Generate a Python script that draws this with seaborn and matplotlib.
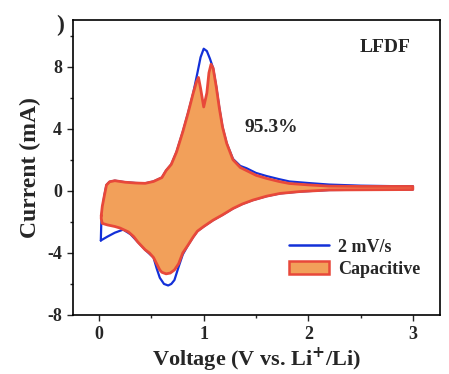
import numpy as np
import pandas as pd
import seaborn as sns
from matplotlib import pyplot as plt
from matplotlib.lines import Line2D
from matplotlib.patches import Patch

# total CV current at 2 mV/s, anodic scan (0 -> 3 V) then cathodic scan (3 -> 0 V)
cv_v_up = [0.016, 0.02, 0.03, 0.05, 0.07, 0.1, 0.15, 0.25, 0.35, 0.44, 0.52, 0.6, 0.64, 0.69,
           0.74, 0.80, 0.85, 0.9, 0.94, 0.97, 1.0, 1.03, 1.06, 1.09, 1.12, 1.15, 1.18, 1.22,
           1.28, 1.35, 1.41, 1.5, 1.6, 1.72, 1.82, 2.0, 2.2, 2.5, 2.8, 3.0]
cv_i_up = [-3.2, -2.2, -1.2, -0.3, 0.37, 0.58, 0.65, 0.55, 0.5, 0.48, 0.6, 0.85, 1.3, 1.7,
           2.5, 3.8, 5.0, 6.3, 7.6, 8.6, 9.15, 9.0, 8.5, 7.9, 6.7, 5.3, 4.1, 3.05,
           2.05, 1.6, 1.45, 1.15, 0.95, 0.75, 0.6, 0.5, 0.4, 0.33, 0.3, 0.3]
cv_v_down = [3.0, 2.7, 2.4, 2.2, 1.92, 1.73, 1.6, 1.47, 1.37, 1.28, 1.18, 1.09, 1.0, 0.94,
             0.90, 0.85, 0.80, 0.76, 0.72, 0.69, 0.66, 0.62, 0.58, 0.55, 0.52, 0.44, 0.37,
             0.30, 0.23, 0.15, 0.08, 0.016]
cv_i_down = [0.08, 0.07, 0.06, 0.05, -0.05, -0.17, -0.35, -0.6, -0.85, -1.14, -1.55, -1.89, -2.3, -2.6,
             -2.97, -3.5, -4.1, -4.9, -5.75, -6.0, -6.1, -6.0, -5.6, -5.0, -4.3, -3.8, -3.3,
             -2.8, -2.5, -2.7, -2.95, -3.2]

# capacitive contribution (95.3 %)
cap_v_up = [0.02, 0.03, 0.05, 0.07, 0.1, 0.15, 0.25, 0.35, 0.44, 0.52, 0.6, 0.64, 0.69, 0.74,
            0.80, 0.85, 0.9, 0.93, 0.95, 0.97, 1.0, 1.03, 1.05, 1.07, 1.09, 1.12, 1.15, 1.18,
            1.22, 1.28, 1.35, 1.41, 1.5, 1.6, 1.72, 1.82, 2.0, 2.2, 2.5, 2.8, 3.0]
cap_i_up = [-1.6, -1.0, -0.3, 0.37, 0.58, 0.65, 0.55, 0.5, 0.48, 0.6, 0.85, 1.3, 1.7, 2.5,
            3.8, 5.0, 6.3, 7.0, 7.3, 6.6, 5.4, 6.3, 7.6, 8.15, 7.9, 6.7, 5.3, 4.1,
            3.05, 2.0, 1.5, 1.3, 1.0, 0.8, 0.6, 0.47, 0.38, 0.3, 0.28, 0.28, 0.28]
cap_v_down = [3.0, 2.7, 2.4, 2.2, 1.92, 1.73, 1.6, 1.47, 1.37, 1.28, 1.18, 1.09, 1.0, 0.94,
              0.90, 0.85, 0.80, 0.76, 0.72, 0.68, 0.64, 0.6, 0.58, 0.55, 0.52, 0.48, 0.44,
              0.37, 0.33, 0.28, 0.2, 0.15, 0.08, 0.03, 0.02]
cap_i_down = [0.08, 0.07, 0.06, 0.05, -0.05, -0.17, -0.35, -0.6, -0.85, -1.14, -1.55, -1.89, -2.3, -2.6,
              -2.97, -3.5, -4.0, -4.7, -5.1, -5.3, -5.35, -5.25, -5.1, -4.7, -4.3, -4.0, -3.8,
              -3.3, -2.95, -2.65, -2.4, -2.3, -2.2, -2.1, -1.8]

cv = pd.DataFrame({"v": cv_v_up + cv_v_down, "i": cv_i_up + cv_i_down})
cap = pd.DataFrame({"v": cap_v_up + cap_v_down + cap_v_up[:1],
                    "i": cap_i_up + cap_i_down + cap_i_up[:1]})

sns.set_style("ticks")
plt.rcParams["font.family"] = ["Liberation Serif", "DejaVu Serif"]
plt.rcParams["font.weight"] = "bold"
plt.rcParams["axes.labelweight"] = "bold"
plt.rcParams["axes.unicode_minus"] = False

blue = "#1330d8"
red = "#e8483a"
orange = "#f2a05a"

fig = plt.figure(figsize=(4.49, 3.74), dpi=100)
ax = fig.add_axes([0.1626, 0.1578, 0.8174, 0.7887])

sns.lineplot(data=cv, x="v", y="i", sort=False, estimator=None, color=blue, lw=1.6, ax=ax)
ax.fill(cap["v"], cap["i"], color=orange, lw=0, zorder=3)
sns.lineplot(data=cap, x="v", y="i", sort=False, estimator=None, color=red, lw=2.0, ax=ax, zorder=4)

ax.set_xlim(-0.25, 3.26)
ax.set_ylim(-8, 11)
ax.set_xticks([0, 1, 2, 3])
ax.set_xticks([0.5, 1.5, 2.5], minor=True)
ax.set_yticks([-8, -4, 0, 4, 8])
ax.set_yticks([-6, -2, 2, 6, 10], minor=True)
ax.tick_params(which="major", length=4.5, width=1.0, labelsize=13, direction="out")
ax.tick_params(which="minor", length=2.5, width=1.0, direction="out")
for s in ax.spines.values():
    s.set_visible(True)
    s.set_linewidth(1.2)
    s.set_color("black")

ax.set_xlabel("Voltage (V vs. Li$^{\\mathbf{+}}$/Li)", fontsize=16, labelpad=2)
ax.set_ylabel("Current (mA)", fontsize=17, labelpad=4)

ax.text(2.73, 9.2, "LFDF", fontsize=14, fontweight="bold", ha="center", va="center")
ax.text(1.65, 4.05, "95.3%", fontsize=14, fontweight="bold", ha="center", va="center")
fig.text(60 / 449, 1 - 25 / 374, ")", fontsize=17, fontweight="bold", ha="center", va="center")

handles = [Line2D([], [], color=blue, lw=1.8),
           Patch(facecolor=orange, edgecolor=red, lw=1.8)]
ax.legend(handles, ["2 mV/s", "Capacitive"], loc="lower right", bbox_to_anchor=(0.99, 0.07),
          frameon=False, prop={"size": 13, "weight": "bold"}, handlelength=2.2,
          handletextpad=0.5, labelspacing=0.3)

fig.savefig("out.png", dpi=100)
